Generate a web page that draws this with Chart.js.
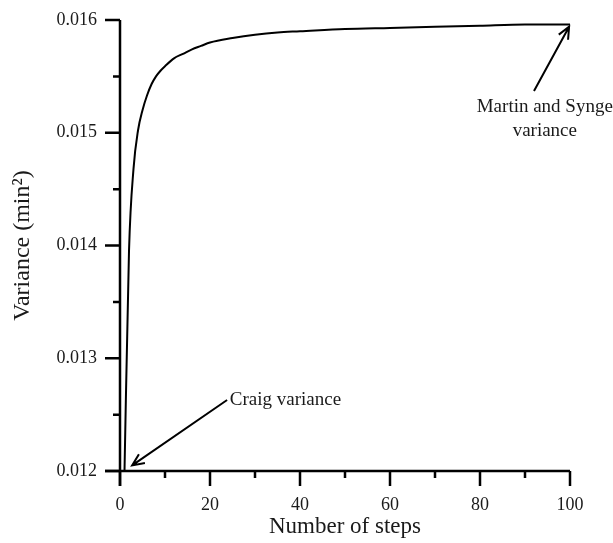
<!DOCTYPE html>
<html>
<head>
<meta charset="utf-8">
<script src="https://cdn.jsdelivr.net/npm/chart.js@4.4.1/dist/chart.umd.min.js"></script>
<style>
  html, body { margin: 0; padding: 0; background: #fff; }
  #wrap { width: 613px; height: 543px; }
</style>
</head>
<body>
<div id="wrap"><canvas id="c" width="613" height="543"></canvas></div>
<script>
// ---- data ----
const steps = [1, 2, 3, 4, 5, 6, 7, 8, 9, 10, 12, 14, 16, 18, 20, 25, 30, 35, 40, 50, 60, 70, 80, 90, 100];
const variance = [0.01200, 0.01395, 0.01468, 0.01502, 0.01520, 0.01533, 0.01543, 0.01550, 0.01555, 0.01559,
                  0.01566, 0.01570, 0.01574, 0.01577, 0.01580, 0.01584, 0.01587, 0.01589, 0.01590, 0.01592,
                  0.01593, 0.01594, 0.01595, 0.01596, 0.01596];
const xTitle = 'Number of steps';
const yTitle = 'Variance (min\u00B2)';
const craigLabel = 'Craig variance';
const martinLabel = ['Martin and Synge', 'variance'];

const SERIF = '"Liberation Serif", "Times New Roman", serif';
const INK = '#1a1a1a';

function isMajorX(v) { return Math.round(v) % 20 === 0; }
function isMajorY(v) { return Math.round(v * 10000) % 10 === 0; }

const axisPlugin = {
  id: 'axisPlugin',
  afterDraw(chart) {
    const ctx = chart.ctx;
    const xs = chart.scales.x, ys = chart.scales.y;
    const ca = chart.chartArea;
    const MAJ = 15, MIN = 7;
    ctx.save();
    ctx.strokeStyle = '#000';
    ctx.lineWidth = 2.5;
    ctx.lineCap = 'butt';
    // axis lines
    ctx.beginPath();
    ctx.moveTo(ca.left, ca.top);
    ctx.lineTo(ca.left, ca.bottom + MAJ);
    ctx.moveTo(ca.left - MAJ, ca.bottom);
    ctx.lineTo(ca.right, ca.bottom);
    ctx.stroke();
    // ticks
    ctx.beginPath();
    xs.ticks.forEach(t => {
      const px = xs.getPixelForValue(t.value);
      const len = isMajorX(t.value) ? MAJ : MIN;
      ctx.moveTo(px, ca.bottom);
      ctx.lineTo(px, ca.bottom + len);
    });
    ys.ticks.forEach(t => {
      const py = ys.getPixelForValue(t.value);
      const len = isMajorY(t.value) ? MAJ : MIN;
      ctx.moveTo(ca.left, py);
      ctx.lineTo(ca.left - len, py);
    });
    ctx.stroke();

    // annotations (arrows)
    function arrow(x0, y0, x1, y1) {
      const ax = xs.getPixelForValue(x0), ay = ys.getPixelForValue(y0);
      const bx = xs.getPixelForValue(x1), by = ys.getPixelForValue(y1);
      const ang = Math.atan2(by - ay, bx - ax);
      const h = 13, spread = 0.42;
      ctx.lineWidth = 2;
      ctx.beginPath();
      ctx.moveTo(ax, ay);
      ctx.lineTo(bx, by);
      ctx.moveTo(bx - h * Math.cos(ang - spread), by - h * Math.sin(ang - spread));
      ctx.lineTo(bx, by);
      ctx.lineTo(bx - h * Math.cos(ang + spread), by - h * Math.sin(ang + spread));
      ctx.stroke();
    }
    arrow(23.8, 0.01263, 2.7, 0.01205);
    arrow(92.0, 0.01537, 99.8, 0.01594);

    ctx.fillStyle = INK;
    ctx.font = '19px ' + SERIF;
    ctx.textBaseline = 'middle';
    ctx.textAlign = 'left';
    ctx.fillText(craigLabel, xs.getPixelForValue(24.4), ys.getPixelForValue(0.01263));
    ctx.textAlign = 'center';
    ctx.fillText(martinLabel[0], xs.getPixelForValue(94.4), ys.getPixelForValue(0.015227));
    ctx.fillText(martinLabel[1], xs.getPixelForValue(94.4), ys.getPixelForValue(0.015013));
    ctx.restore();
  }
};

new Chart(document.getElementById('c'), {
  type: 'line',
  data: {
    datasets: [{
      data: steps.map((s, i) => ({ x: s, y: variance[i] })),
      borderColor: '#000',
      borderWidth: 2,
      pointRadius: 0,
      fill: false,
      cubicInterpolationMode: 'monotone',
      clip: false
    }]
  },
  options: {
    responsive: false,
    animation: false,
    events: [],
    layout: { padding: { left: 0, right: 43, top: 20, bottom: 0 } },
    plugins: { legend: { display: false }, tooltip: { enabled: false } },
    scales: {
      x: {
        type: 'linear',
        min: 0, max: 100,
        afterFit: s => { s.height = 72; },
        border: { display: false },
        grid: { display: true, drawOnChartArea: false, drawTicks: true, tickLength: 15, tickColor: 'rgba(0,0,0,0)' },
        ticks: {
          stepSize: 10,
          autoSkip: false,
          maxRotation: 0,
          padding: 8,
          color: INK,
          font: { family: SERIF, size: 18 },
          callback: v => isMajorX(v) ? String(v) : ''
        },
        title: { display: true, text: xTitle, color: INK, font: { family: SERIF, size: 23 }, padding: { top: 0, bottom: 2 } }
      },
      y: {
        type: 'linear',
        min: 0.012, max: 0.016,
        afterFit: s => { s.width = 120; },
        border: { display: false },
        grid: { display: true, drawOnChartArea: false, drawTicks: true, tickLength: 15, tickColor: 'rgba(0,0,0,0)' },
        ticks: {
          stepSize: 0.0005,
          autoSkip: false,
          padding: 8,
          color: INK,
          font: { family: SERIF, size: 18 },
          callback: v => isMajorY(v) ? v.toFixed(3) : ''
        },
        title: { display: true, text: yTitle, color: INK, font: { family: SERIF, size: 24 }, padding: { top: 8, bottom: 0 } }
      }
    }
  },
  plugins: [axisPlugin]
});
</script>
</body>
</html>
